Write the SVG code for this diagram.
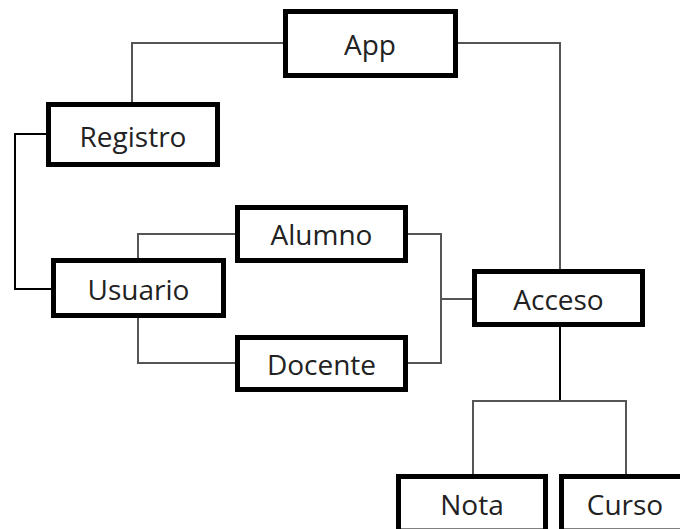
<svg xmlns="http://www.w3.org/2000/svg" width="680" height="529" viewBox="0 0 680 529">
<style>
.box{fill:#fff;stroke:#000;stroke-width:5}
.lbl{font-family:"Open Sans","Noto Sans","Liberation Sans",sans-serif;font-size:28px;fill:#222;text-anchor:middle}
.c{fill:none;stroke:#555;stroke-width:2}
.k{fill:none;stroke:#000;stroke-width:2}
</style>
<rect width="680" height="529" fill="#fff"/>
<g id="connectors">
<path class="c" d="M283,43 H132 V102"/>
<path class="c" d="M458,43 H560 V269"/>
<path class="k" d="M46,134 H15 V289 H51"/>
<path class="c" d="M138,258 V234 H235"/>
<path class="c" d="M138,318 V363 H235"/>
<path class="c" d="M408,234 H441 V363 H408"/>
<path class="c" d="M441,299 H472"/>
<path class="k" d="M560,327 V401"/>
<path class="c" d="M473,474 V401 H626 V474"/>
</g>
<g id="app"><rect class="box" x="285.5" y="11.5" width="170" height="64"/><text class="lbl" x="370" y="55">App</text></g>
<g id="registro"><rect class="box" x="48.5" y="104.5" width="169" height="60"/><text class="lbl" x="133" y="147">Registro</text></g>
<g id="usuario"><rect class="box" x="53.5" y="260.5" width="170" height="55"/><text class="lbl" x="138.5" y="300">Usuario</text></g>
<g id="alumno"><rect class="box" x="237.5" y="207.5" width="168" height="53"/><text class="lbl" x="321.5" y="245">Alumno</text></g>
<g id="docente"><rect class="box" x="237.5" y="337.5" width="168" height="52"/><text class="lbl" x="321.5" y="375">Docente</text></g>
<g id="acceso"><rect class="box" x="474.5" y="271.5" width="168" height="53"/><text class="lbl" x="558.5" y="310">Acceso</text></g>
<g id="nota"><rect class="box" x="398.5" y="476.5" width="147" height="54.5"/><text class="lbl" x="472" y="515">Nota</text></g>
<g id="curso"><rect class="box" x="561.5" y="476.5" width="130" height="54.5"/><text class="lbl" x="625" y="515">Curso</text></g>
</svg>
